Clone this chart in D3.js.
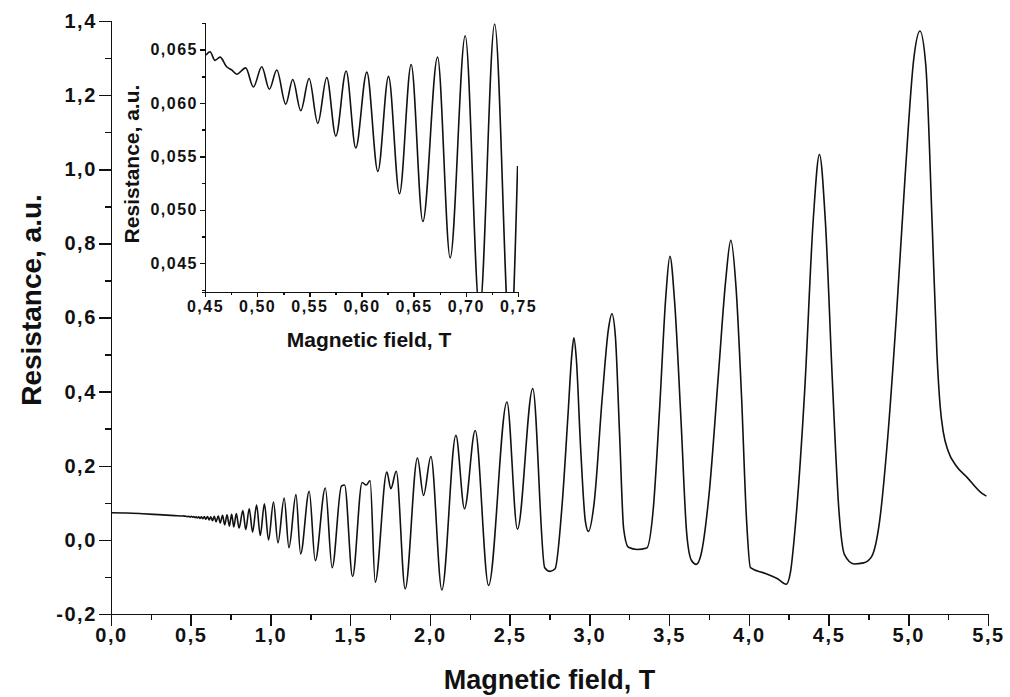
<!DOCTYPE html>
<html>
<head>
<meta charset="utf-8">
<title>Magnetoresistance</title>
<script src="https://cdn.jsdelivr.net/npm/d3@7"></script>
<style>
body { margin: 0; background: #fff; }
svg { display: block; font-family: "Liberation Sans", Arial, sans-serif; }

.axis path,
.axis line {
  stroke: #111;
  stroke-width: 1.5;
  shape-rendering: crispEdges;
}

.axis text {
  fill: #111;
  font-family: "Liberation Sans", Arial, sans-serif;
  font-weight: bold;
}

.main-axis text { font-size: 20px; letter-spacing: 1.6px; }
.inset-axis text { font-size: 16px; letter-spacing: 1.5px; }
.axis--minor text { display: none; }

.title {
  fill: #111;
  font-weight: bold;
  text-anchor: middle;
}

.trace {
  fill: none;
  stroke: #111;
  stroke-width: 1.6;
  stroke-linejoin: round;
}
</style>
</head>
<body>
<svg width="1010" height="697"></svg>
<script>

// Magnetic field (T) and resistance (a.u.)
var fieldT = [
  0, 0.10, 0.20, 0.30, 0.40,
  0.451, 0.4548, 0.4596, 0.4644, 0.4708, 0.4756, 0.4804, 0.4890, 0.4964, 0.5044,
  0.5117, 0.5188, 0.5274, 0.5341, 0.5418, 0.5498, 0.5581, 0.5667, 0.5754, 0.5853,
  0.5945, 0.6051, 0.6157, 0.6259, 0.6364, 0.6476, 0.6588, 0.6729, 0.6850, 0.6994,
  0.7132, 0.7276, 0.7426, 0.7496,
  0.757, 0.770, 0.786, 0.803, 0.827, 0.845, 0.867, 0.888, 0.913, 0.936,
  0.962, 0.988, 1.019, 1.047, 1.086, 1.116, 1.160, 1.189, 1.243, 1.281,
  1.344, 1.387, 1.445, 1.465, 1.515, 1.575, 1.600, 1.625, 1.657, 1.730,
  1.755, 1.789, 1.845, 1.922, 1.960, 2.006, 2.075, 2.163, 2.217, 2.284,
  2.368, 2.483, 2.549, 2.645, 2.72, 2.754, 2.785,
  2.83, 2.865, 2.89, 2.903, 2.918, 2.945, 2.975, 2.994,
  3.03, 3.08, 3.12, 3.141, 3.163, 3.19, 3.215, 3.245, 3.30, 3.36,
  3.40, 3.44, 3.48, 3.505, 3.535, 3.575, 3.61, 3.64, 3.67,
  3.70, 3.75, 3.81, 3.855, 3.887, 3.92, 3.955, 3.985, 4.01, 4.10, 4.18, 4.235,
  4.26, 4.30, 4.35, 4.405, 4.443, 4.48, 4.525, 4.565, 4.60, 4.66, 4.72, 4.77,
  4.82, 4.87, 4.925, 4.98, 5.035, 5.073, 5.11, 5.15, 5.18, 5.20,
  5.22, 5.25, 5.30, 5.37, 5.46, 5.49
];

var resistance = [
  0.073, 0.0725, 0.0705, 0.068, 0.0655,
  0.0645, 0.0648, 0.0640, 0.0643, 0.0634, 0.0631, 0.0627, 0.0633, 0.0615, 0.0634,
  0.0613, 0.0631, 0.0599, 0.0622, 0.0593, 0.0623, 0.0581, 0.0624, 0.0569, 0.0630,
  0.0558, 0.0629, 0.0536, 0.0625, 0.0515, 0.0636, 0.0489, 0.0643, 0.0455, 0.0663,
  0.0405, 0.0674, 0.0372, 0.0541,
  0.069, 0.035, 0.071, 0.032, 0.079, 0.028, 0.084, 0.021, 0.094, 0.012,
  0.097, 0.000, 0.102, -0.008, 0.113, -0.021, 0.122, -0.038, 0.131, -0.056,
  0.140, -0.075, 0.145, 0.148, -0.099, 0.155, 0.148, 0.160, -0.114, 0.183,
  0.138, 0.185, -0.132, 0.221, 0.120, 0.225, -0.135, 0.282, 0.084, 0.295,
  -0.123, 0.372, 0.029, 0.408, -0.075, -0.085, -0.078,
  0.10, 0.33, 0.50, 0.545, 0.49, 0.25, 0.05, 0.023,
  0.10, 0.38, 0.57, 0.610, 0.55, 0.28, 0.03, -0.020, -0.026, -0.022,
  0.08, 0.35, 0.66, 0.765, 0.64, 0.32, 0.02, -0.055, -0.066,
  -0.04, 0.12, 0.45, 0.70, 0.808, 0.68, 0.38, 0.06, -0.075, -0.09, -0.105, -0.12,
  -0.09, 0.08, 0.40, 0.87, 1.040, 0.86, 0.42, 0.08, -0.04, -0.065, -0.062, -0.045,
  0.05, 0.27, 0.60, 0.98, 1.30, 1.373, 1.28, 0.85, 0.50, 0.36,
  0.29, 0.24, 0.20, 0.168, 0.126, 0.118
];

// tick values
var xTicks = [0, 0.5, 1, 1.5, 2, 2.5, 3, 3.5, 4, 4.5, 5, 5.5];
var xMinor = [0.25, 0.75, 1.25, 1.75, 2.25, 2.75, 3.25, 3.75, 4.25, 4.75, 5.25];
var yTicks = [-0.2, 0, 0.2, 0.4, 0.6, 0.8, 1.0, 1.2, 1.4];
var yMinor = [-0.1, 0.1, 0.3, 0.5, 0.7, 0.9, 1.1, 1.3];
var insetXTicks = [0.45, 0.50, 0.55, 0.60, 0.65, 0.70, 0.75];
var insetXMinor = [0.475, 0.525, 0.575, 0.625, 0.675, 0.725];
var insetYTicks = [0.045, 0.050, 0.055, 0.060, 0.065];
var insetYMinor = [0.0425, 0.0475, 0.0525, 0.0575, 0.0625, 0.0675];

var data = fieldT.map(function(b, i) { return {b: b, r: resistance[i]}; });

// comma as decimal separator, plain hyphen for minus
var locale = d3.formatLocale({decimal: ",", thousands: ".", grouping: [3], currency: ["", ""], minus: "-"});

var svg = d3.select("svg"),
    margin = {top: 21, right: 22, bottom: 83, left: 111},
    width = +svg.attr("width") - margin.left - margin.right,
    height = +svg.attr("height") - margin.top - margin.bottom,
    g = svg.append("g").attr("transform", "translate(" + margin.left + "," + margin.top + ")");

var x = d3.scaleLinear().domain([0, 5.5]).range([0, width]);
var y = d3.scaleLinear().domain([-0.2, 1.4]).range([height, 0]);

var line = d3.line()
    .x(function(d) { return x(d.b); })
    .y(function(d) { return y(d.r); })
    .curve(d3.curveMonotoneX);

// main axes: minor ticks first, then labelled major ticks
g.append("g")
    .attr("class", "axis axis--minor")
    .attr("transform", "translate(0," + height + ")")
    .call(d3.axisBottom(x).tickValues(xMinor).tickSize(6).tickFormat(""));

g.append("g")
    .attr("class", "axis main-axis")
    .attr("transform", "translate(0," + height + ")")
    .call(d3.axisBottom(x).tickValues(xTicks).tickSize(12).tickSizeOuter(0).tickPadding(2)
      .tickFormat(locale.format(".1f")));

g.append("g")
    .attr("class", "axis axis--minor")
    .call(d3.axisLeft(y).tickValues(yMinor).tickSize(6).tickFormat(""));

g.append("g")
    .attr("class", "axis main-axis")
    .call(d3.axisLeft(y).tickValues(yTicks).tickSize(12).tickSizeOuter(0).tickPadding(2)
      .tickFormat(locale.format(".1f")));

g.append("path")
    .datum(data)
    .attr("class", "trace")
    .attr("d", line);

svg.append("text")
    .attr("class", "title")
    .attr("x", margin.left + width / 2)
    .attr("y", 689)
    .style("font-size", "27px")
    .text("Magnetic field, T");

svg.append("text")
    .attr("class", "title")
    .attr("transform", "translate(41,300) rotate(-90)")
    .style("font-size", "28px")
    .text("Resistance, a.u.");

// inset: same trace, zoomed on 0.45 - 0.75 T
var inset = {left: 205, top: 23, width: 313, height: 269};

var xi = d3.scaleLinear().domain([0.45, 0.75]).range([0, inset.width]);
var yi = d3.scaleLinear().domain([0.0423, 0.0675]).range([inset.height, 0]);

var gi = svg.append("g").attr("transform", "translate(" + inset.left + "," + inset.top + ")");

gi.append("clipPath")
    .attr("id", "inset-clip")
  .append("rect")
    .attr("width", inset.width)
    .attr("height", inset.height);

gi.append("g")
    .attr("class", "axis axis--minor")
    .attr("transform", "translate(0," + inset.height + ")")
    .call(d3.axisBottom(xi).tickValues(insetXMinor).tickSize(3).tickFormat(""));

gi.append("g")
    .attr("class", "axis inset-axis")
    .attr("transform", "translate(0," + inset.height + ")")
    .call(d3.axisBottom(xi).tickValues(insetXTicks).tickSize(5).tickSizeOuter(0).tickPadding(4)
      .tickFormat(locale.format(".2f")));

gi.append("g")
    .attr("class", "axis axis--minor")
    .call(d3.axisLeft(yi).tickValues(insetYMinor).tickSize(3).tickFormat(""));

gi.append("g")
    .attr("class", "axis inset-axis")
    .call(d3.axisLeft(yi).tickValues(insetYTicks).tickSize(5).tickSizeOuter(0).tickPadding(2)
      .tickFormat(locale.format(".3f")));

var lineInset = d3.line()
    .x(function(d) { return xi(d.b); })
    .y(function(d) { return yi(d.r); })
    .curve(d3.curveMonotoneX);

gi.append("path")
    .datum(data.filter(function(d) { return d.b >= 0.44 && d.b <= 0.751; }))
    .attr("class", "trace")
    .attr("clip-path", "url(#inset-clip)")
    .attr("d", lineInset);

svg.append("text")
    .attr("class", "title")
    .attr("x", 369)
    .attr("y", 347)
    .style("font-size", "21px")
    .text("Magnetic field, T");

svg.append("text")
    .attr("class", "title")
    .attr("transform", "translate(139,164) rotate(-90)")
    .style("font-size", "21px")
    .text("Resistance, a.u.");

</script>
</body>
</html>
